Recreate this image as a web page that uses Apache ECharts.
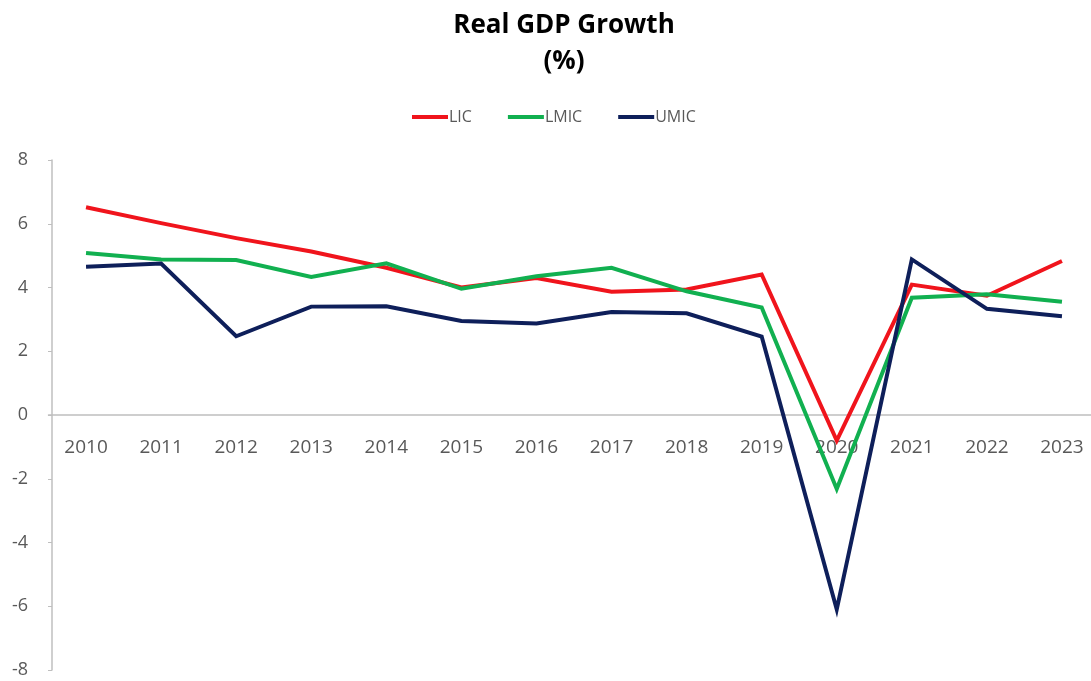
<!DOCTYPE html>
<html>
<head>
<meta charset="utf-8">
<title>Real GDP Growth</title>
<script src="https://cdn.jsdelivr.net/npm/echarts@6/dist/echarts.min.js"></script>
<style>
  html, body { margin: 0; padding: 0; background: #ffffff; }
  #chart { width: 1091px; height: 681px; }
</style>
</head>
<body>
<div id="chart"></div>
<script>
// Years on the category axis
const years = ['2010', '2011', '2012', '2013', '2014', '2015', '2016',
               '2017', '2018', '2019', '2020', '2021', '2022', '2023'];

// Real GDP growth (%) by income group
const lic  = [6.52, 6.02, 5.55, 5.13, 4.62, 4.00, 4.30, 3.87, 3.94, 4.41, -0.80, 4.09, 3.74, 4.83];
const lmic = [5.08, 4.88, 4.86, 4.33, 4.76, 3.96, 4.35, 4.62, 3.88, 3.37, -2.32, 3.68, 3.79, 3.55];
const umic = [4.65, 4.75, 2.47, 3.40, 3.41, 2.95, 2.87, 3.23, 3.19, 2.46, -6.10, 4.88, 3.33, 3.10];

// Value-axis range
const yMin = -8;
const yMax = 8;
const yStep = 2;

const chart = echarts.init(document.getElementById('chart'), null, { renderer: 'canvas' });

const textColor = '#595959';
const axisColor = '#bfbfbf';
const font = 'Open Sans';

// Plot area (pixels)
const gridTop = 160;
const gridBottom = 11;
const gridHeight = 681 - gridTop - gridBottom;

function lineSeries(name, data, color) {
  return {
    name: name,
    type: 'line',
    data: data,
    symbol: 'none',
    smooth: false,
    lineStyle: { color: color, width: 4, join: 'miter' },
    itemStyle: { color: color },
    emphasis: { disabled: true }
  };
}

chart.setOption({
  backgroundColor: '#ffffff',
  animation: false,
  textStyle: { fontFamily: font },
  title: {
    text: 'Real GDP Growth\n(%)',
    left: 559,
    textAlign: 'center',
    top: 3,
    textStyle: {
      fontFamily: font,
      fontWeight: 'bold',
      fontSize: 26,
      color: '#000000',
      lineHeight: 36
    }
  },
  legend: {
    top: 104,
    left: 407,
    itemWidth: 36,
    itemHeight: 4,
    itemGap: 36,
    icon: 'rect',
    selectedMode: false,
    textStyle: { fontFamily: font, fontSize: 16, color: textColor, padding: [0, 0, 0, -4] },
    data: ['LIC', 'LMIC', 'UMIC']
  },
  grid: {
    left: 48.5,
    right: -8.5,
    top: gridTop,
    bottom: gridBottom,
    containLabel: false,
    outerBoundsMode: 'none'
  },
  xAxis: {
    type: 'category',
    data: years,
    boundaryGap: true,
    position: 'bottom',
    // category axis sits on the zero line of the value range
    offset: -gridHeight * (0 - yMin) / (yMax - yMin),
    axisLine: { show: true, onZero: false, lineStyle: { color: axisColor, width: 1.5 } },
    axisTick: { show: false },
    axisLabel: {
      fontFamily: font,
      fontSize: 19,
      color: textColor,
      margin: 23,
      interval: 0
    },
    splitLine: { show: false }
  },
  yAxis: {
    type: 'value',
    min: yMin,
    max: yMax,
    interval: yStep,
    offset: -3.5,
    axisLine: { show: true, lineStyle: { color: axisColor, width: 1.5 } },
    axisTick: { show: true, length: 4, inside: false, lineStyle: { color: axisColor } },
    axisLabel: {
      fontFamily: font,
      fontSize: 18,
      color: textColor,
      margin: 24
    },
    splitLine: { show: false }
  },
  series: [
    lineSeries('LIC', lic, '#f0141c'),
    lineSeries('LMIC', lmic, '#11b050'),
    lineSeries('UMIC', umic, '#0e1f5a')
  ]
});
</script>
</body>
</html>
